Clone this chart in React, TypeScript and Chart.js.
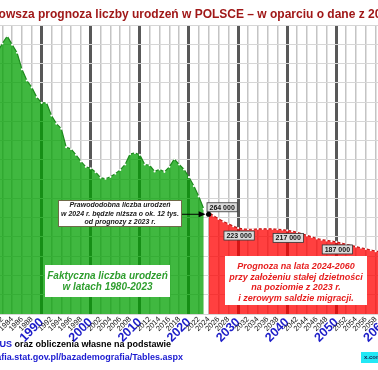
import React, { useEffect, useRef } from 'react';
import { Chart, registerables } from 'chart.js';

Chart.register(...registerables);

// ---------- data (births, thousands) ----------
const actualYears = [1980, 1981, 1982, 1983, 1984, 1985, 1986, 1987, 1988, 1989, 1990, 1991, 1992, 1993, 1994, 1995, 1996, 1997, 1998, 1999, 2000, 2001, 2002, 2003, 2004, 2005, 2006, 2007, 2008, 2009, 2010, 2011, 2012, 2013, 2014, 2015, 2016, 2017, 2018, 2019, 2020, 2021, 2022, 2023];
const actualBirths = [693, 679, 702, 721, 699, 678, 635, 606, 588, 563, 548, 548, 515, 494, 481, 433, 428, 413, 396, 382, 378, 368, 354, 351, 356, 364, 374, 388, 415, 418, 413, 388, 386, 370, 375, 369, 382, 402, 388, 375, 355, 332, 305, 273];

const forecastYears = [2024, 2025, 2026, 2027, 2028, 2029, 2030, 2031, 2032, 2033, 2034, 2035, 2036, 2037, 2038, 2039, 2040, 2041, 2042, 2043, 2044, 2045, 2046, 2047, 2048, 2049, 2050, 2051, 2052, 2053, 2054, 2055, 2056, 2057, 2058, 2059, 2060];
const forecastBirths = [264, 255, 247, 240, 234, 228, 223, 221, 220, 220, 221, 221, 221, 221, 220, 219, 217, 215, 212, 208, 204, 200, 196, 193, 191, 189, 187, 184, 181, 178, 175, 172, 169, 166, 163, 161, 159];

const labeledYears = [2024, 2030, 2040, 2050];
const tickYears = [1976, 1978, 1980, 1982, 1984, 1986, 1988, 1990, 1992, 1994, 1996, 1998, 2000, 2002, 2004, 2006, 2008, 2010, 2012, 2014, 2016, 2018, 2020, 2022, 2024, 2026, 2028, 2030, 2032, 2034, 2036, 2038, 2040, 2042, 2044, 2046, 2048, 2050, 2052, 2054, 2056, 2058, 2060, 2062, 2064];
const labelFrom = 1980;
const labelTo = 2060;

const TITLE = 'Najnowsza prognoza liczby urodzeń w POLSCE – w oparciu o dane z 2023 r.';
const noteLines = ['Prawododobna liczba urodzeń', 'w 2024 r. będzie niższa o ok. 12 tys.', 'od prognozy z 2023 r.'];
const actualLines = ['Faktyczna liczba urodzeń', 'w latach 1980-2023'];
const forecastLines = ['Prognoza na lata 2024-2060', 'przy założeniu stałej dzietności', 'na poziomie z 2023 r.', 'i zerowym saldzie migracji.'];
const sourcePrefix = 'Źródło: ';
const sourceOrg = 'GUS';
const sourceRest = ' oraz obliczenia własne na podstawie';
const sourceUrl = 'http://demografia.stat.gov.pl/bazademografia/Tables.aspx';
const watermark = 'x.com';

// ---------- layout ----------
const P = 40; // hidden margin on each side
const W = 378 + 2 * P;
const H = 370;
const FAM = '"Liberation Sans", Arial, sans-serif';

const fmt = (v: number) => `${v} 000`;

const overlay = {
  id: 'overlay',
  afterDatasetsDraw(chart: any) {
    const { ctx, scales } = chart;
    const x = scales.x;
    const y = scales.y;
    ctx.save();

    // value labels
    labeledYears.forEach((yr, k) => {
      const i = forecastYears.indexOf(yr);
      const v = forecastBirths[i];
      const px = x.getPixelForValue(yr);
      const py = y.getPixelForValue(v);
      const text = fmt(v);
      ctx.font = `bold 7px ${FAM}`;
      const tw = ctx.measureText(text).width;
      const bw = tw + 5;
      const bh = 9;
      const cx = k === 0 ? px + 13.5 : px + 1;
      const top = k === 0 ? py - 9.5 : py + 3;
      ctx.fillStyle = '#dcdcdc';
      ctx.fillRect(cx - bw / 2, top, bw, bh);
      ctx.strokeStyle = '#333';
      ctx.lineWidth = 0.8;
      ctx.strokeRect(cx - bw / 2, top, bw, bh);
      ctx.fillStyle = '#111';
      ctx.textAlign = 'center';
      ctx.textBaseline = 'middle';
      ctx.fillText(text, cx, top + bh / 2 + 0.5);
    });

    // arrow + dot at 2024
    const dx = x.getPixelForValue(forecastYears[0]);
    const dy = y.getPixelForValue(forecastBirths[0]) + 2;
    const boxRight = 182 + P;
    ctx.strokeStyle = '#000';
    ctx.fillStyle = '#000';
    ctx.lineWidth = 1;
    ctx.beginPath();
    ctx.moveTo(boxRight, dy);
    ctx.lineTo(dx - 8, dy);
    ctx.stroke();
    ctx.beginPath();
    ctx.moveTo(dx - 3, dy);
    ctx.lineTo(dx - 10, dy - 3);
    ctx.lineTo(dx - 10, dy + 3);
    ctx.closePath();
    ctx.fill();
    ctx.beginPath();
    ctx.arc(dx, dy, 2.6, 0, Math.PI * 2);
    ctx.fill();

    const box = (x0: number, y0: number, w: number, h: number, stroke: string | null) => {
      ctx.fillStyle = '#fff';
      ctx.fillRect(x0 + P, y0, w, h);
      if (stroke) {
        ctx.strokeStyle = stroke;
        ctx.lineWidth = 1;
        ctx.strokeRect(x0 + P + 0.5, y0 + 0.5, w - 1, h - 1);
      }
    };
    const lines = (arr: string[], cx: number, y0: number, step: number, color: string, size: number) => {
      ctx.fillStyle = color;
      ctx.font = `italic bold ${size}px ${FAM}`;
      ctx.textAlign = 'center';
      ctx.textBaseline = 'middle';
      arr.forEach((t, i) => ctx.fillText(t, cx + P, y0 + i * step));
    };

    box(58, 200, 124, 27, '#6e6a48');
    lines(noteLines, 120, 205.5, 8.3, '#1a1a1a', 7);

    box(45, 265, 125, 32, null);
    lines(actualLines, 107.5, 276, 11, '#2f9e2f', 10);

    box(225, 256, 142, 49, null);
    lines(forecastLines, 296, 266.5, 10.6, '#e61e1e', 9);

    ctx.restore();
  },
  afterDraw(chart: any) {
    const { ctx } = chart;
    ctx.save();
    ctx.font = `bold 9px ${FAM}`;
    ctx.textBaseline = 'middle';
    ctx.textAlign = 'left';
    const wPre = ctx.measureText(sourcePrefix).width;
    const wOrg = ctx.measureText(sourceOrg).width;
    const wRest = ctx.measureText(sourceRest).width;
    let sx = 171 + P - (wPre + wOrg + wRest);
    const y1 = 345;
    ctx.fillStyle = '#000';
    ctx.fillText(sourcePrefix, sx, y1);
    sx += wPre;
    ctx.fillStyle = '#1a1ad0';
    ctx.fillText(sourceOrg, sx, y1);
    sx += wOrg;
    ctx.fillStyle = '#000';
    ctx.fillText(sourceRest, sx, y1);
    ctx.textAlign = 'right';
    ctx.fillStyle = '#1a1ad0';
    ctx.fillText(sourceUrl, 183 + P, 357.5);
    ctx.fillStyle = '#22e8f5';
    ctx.fillRect(361 + P, 352, 40, 11);
    ctx.fillStyle = '#1a2050';
    ctx.font = `bold 6px ${FAM}`;
    ctx.textAlign = 'left';
    ctx.fillText(watermark, 364 + P, 357.5);
    ctx.restore();
  },
};

export default function App() {
  const ref = useRef<HTMLCanvasElement>(null);
  useEffect(() => {
    if (!ref.current) return;
    const chart = new Chart(ref.current, {
      type: 'line',
      data: {
        datasets: [
          {
            label: 'Faktyczna',
            data: actualYears.map((yr, i) => ({ x: yr, y: actualBirths[i] })),
            fill: 'origin',
            backgroundColor: 'rgba(0,160,0,0.75)',
            borderColor: '#1d8a1d',
            borderWidth: 1.2,
            pointRadius: 1.1,
            pointBackgroundColor: '#ffffff',
            pointBorderWidth: 0,
            tension: 0,
          },
          {
            label: 'Prognoza',
            data: forecastYears.map((yr, i) => ({ x: yr, y: forecastBirths[i] })),
            fill: 'origin',
            backgroundColor: 'rgba(255,0,0,0.75)',
            borderColor: '#c41414',
            borderWidth: 1.2,
            pointRadius: 1.1,
            pointBackgroundColor: '#ffffff',
            pointBorderWidth: 0,
            tension: 0,
          },
        ],
      },
      options: {
        animation: false,
        responsive: false,
        devicePixelRatio: 1,
        layout: { padding: 0 },
        plugins: {
          legend: { display: false },
          tooltip: { enabled: false },
          title: {
            display: true,
            text: TITLE,
            color: '#a01818',
            font: { size: 12, weight: 'bold', family: FAM },
            padding: { top: 7, bottom: 3.6 },
          },
        },
        scales: {
          x: {
            type: 'linear',
            bounds: 'data',
            min: 1974.2,
            max: 2065.8,
            afterBuildTicks: (scale: any) => {
              scale.ticks = tickYears.map((v) => ({ value: v }));
            },
            afterFit: (scale: any) => {
              scale.height = 56;
            },
            border: { display: false },
            grid: {
              drawTicks: false,
              color: (c: any) => (c.tick && c.tick.value % 10 === 0 ? '#585858' : '#c4c4c4'),
              lineWidth: (c: any) => (c.tick && c.tick.value % 10 === 0 ? 3 : 1.5),
            },
            ticks: {
              autoSkip: false,
              minRotation: 45,
              maxRotation: 45,
              padding: 1,
              callback: (v: any) => (v >= labelFrom && v <= labelTo ? String(v) : ''),
              color: (c: any) => (c.tick && c.tick.value % 10 === 0 ? '#1c1cc8' : '#111'),
              font: (c: any) =>
                c.tick && c.tick.value % 10 === 0
                  ? { size: 12.5, weight: 'bold', family: FAM }
                  : { size: 7.5, family: FAM },
            },
          },
          y: {
            min: 0,
            max: 750,
            border: { display: false },
            ticks: { display: false, stepSize: 50 },
            grid: { drawTicks: false, color: '#d6d6d6', lineWidth: 1 },
          },
        },
      },
      plugins: [overlay],
    } as any);
    return () => chart.destroy();
  }, []);

  return (
    <div
      style={{
        position: 'fixed',
        left: 0,
        top: 0,
        width: 378,
        height: 370,
        overflow: 'hidden',
        background: '#fff',
      }}
    >
      <canvas
        ref={ref}
        width={W}
        height={H}
        style={{ position: 'absolute', left: -P, top: 0, width: W, height: H }}
      />
    </div>
  );
}
